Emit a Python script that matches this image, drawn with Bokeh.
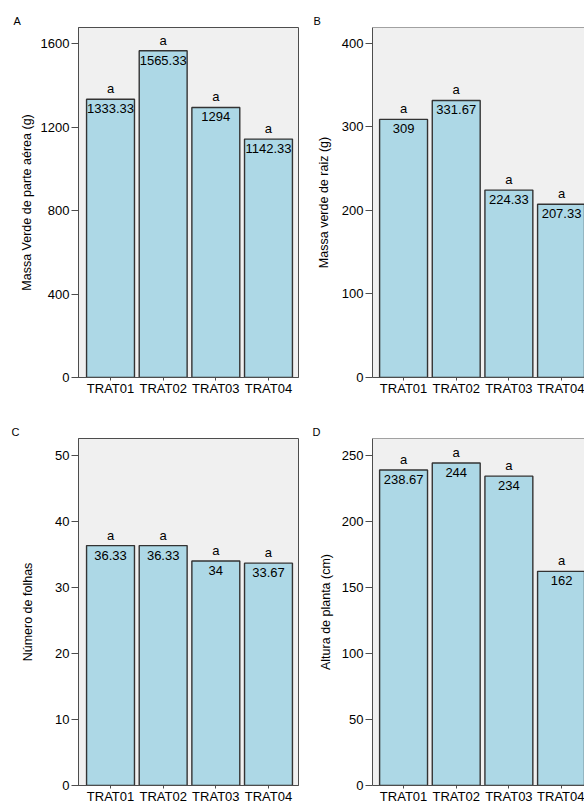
from bokeh.plotting import figure
from bokeh.layouts import gridplot
from bokeh.models import Range1d, FixedTicker, Span
from bokeh.core.properties import value
from bokeh.embed import file_html
from bokeh.resources import INLINE

# ---- data ----
categories = ["TRAT01", "TRAT02", "TRAT03", "TRAT04"]
massa_parte_aerea = [1333.33, 1565.33, 1294, 1142.33]
massa_raiz = [309, 331.67, 224.33, 207.33]
numero_folhas = [36.33, 36.33, 34, 33.67]
altura_planta = [238.67, 244, 234, 162]
letras_tukey = ["a", "a", "a", "a"]

yticks_A = [0, 400, 800, 1200, 1600]
yticks_B = [0, 100, 200, 300, 400]
yticks_C = [0, 10, 20, 30, 40, 50]
yticks_D = [0, 50, 100, 150, 200, 250]

FONT = value("Liberation Sans")
BAR_FILL = "#add8e6"
BAR_LINE = "#333333"
FRAME_LINE = "#4d4d4d"
BG = "#f0f0f0"
TXT = "#000000"


def panel(letter, vals, ylabel, yticks, yend, xstart, xend, width, height,
          b_left, b_right, b_top, b_bottom, lab_standoff, letter_dx, cut_right):
    p = figure(width=width, height=height, output_backend="svg",
               toolbar_location=None,
               x_range=Range1d(xstart, xend), y_range=Range1d(0, yend),
               min_border_left=b_left, min_border_right=b_right,
               min_border_top=b_top, min_border_bottom=b_bottom)
    p.background_fill_color = BG
    p.border_fill_color = "white"
    if cut_right:
        p.outline_line_color = None
        p.add_layout(Span(location=yend, dimension="width",
                          line_color=FRAME_LINE, line_width=1))
    else:
        p.outline_line_color = FRAME_LINE
        p.outline_line_width = 1
    p.xgrid.visible = False
    p.ygrid.visible = False

    # panel letter as title
    p.title.text = letter
    p.title.align = "left"
    p.title.offset = letter_dx
    p.title.standoff = 2
    p.title.text_font = "Liberation Sans"
    p.title.text_font_size = "11px"
    p.title.text_font_style = "normal"
    p.title.text_color = TXT

    xs = list(range(1, len(categories) + 1))
    p.vbar(x=xs, top=vals, width=0.91, bottom=0, fill_color=BAR_FILL,
           line_color=BAR_LINE, line_width=1.4)
    val_txt = [f"{v:g}" for v in vals]
    p.text(x=xs, y=vals, text=val_txt, text_align="center",
           text_baseline="middle", y_offset=9.5, text_font=FONT,
           text_font_size="13px", text_color=TXT)
    p.text(x=xs, y=vals, text=letras_tukey, text_align="center",
           text_baseline="middle", y_offset=-10.5, text_font=FONT,
           text_font_size="13px", text_color=TXT)

    # x axis
    xa = p.xaxis[0]
    xa.ticker = FixedTicker(ticks=xs)
    xa.major_label_overrides = {i: c for i, c in zip(xs, categories)}
    xa.major_label_text_font = "Liberation Sans"
    xa.major_label_text_font_size = "13px"
    xa.major_label_text_color = TXT
    xa.major_label_standoff = 0
    xa.major_tick_in = 0
    xa.major_tick_out = 3
    xa.minor_tick_line_color = None
    xa.axis_line_color = FRAME_LINE
    xa.major_tick_line_color = FRAME_LINE

    # y axis
    ya = p.yaxis[0]
    ya.ticker = FixedTicker(ticks=yticks)
    ya.axis_label = ylabel
    ya.axis_label_text_font = "Liberation Sans"
    ya.axis_label_text_font_size = "12.5px"
    ya.axis_label_text_font_style = "normal"
    ya.axis_label_text_color = TXT
    ya.axis_label_standoff = lab_standoff
    ya.major_label_text_font = "Liberation Sans"
    ya.major_label_text_font_size = "13px"
    ya.major_label_text_color = TXT
    ya.major_label_standoff = 2
    ya.major_tick_in = 0
    ya.major_tick_out = 7
    ya.minor_tick_line_color = None
    ya.axis_line_color = FRAME_LINE
    ya.major_tick_line_color = FRAME_LINE
    return p


# top row: frames 27..377 ; bottom row: frames 438..788
pA = panel("A", massa_parte_aerea, "Massa Verde de parte aérea (g)", yticks_A,
           1677, 0.392, 4.57, 302, 402, 78, 4, 27, 25, 4, -65, False)
pB = panel("B", massa_raiz, "Massa verde de raiz (g)", yticks_B,
           419, 0.41, 4.436, 282, 402, 70, 0, 27, 25, 8, -59, True)
pC = panel("C", numero_folhas, "Número de folhas", yticks_C,
           52.55, 0.392, 4.57, 302, 404, 78, 4, 36, 18, 17, -67, False)
pD = panel("D", altura_planta, "Altura de planta (cm)", yticks_D,
           262.5, 0.41, 4.436, 282, 404, 70, 0, 36, 18, 6, -60, True)

grid = gridplot([[pA, pB], [pC, pD]], toolbar_location=None)

open("out.html", "w").write(file_html(grid, INLINE))
